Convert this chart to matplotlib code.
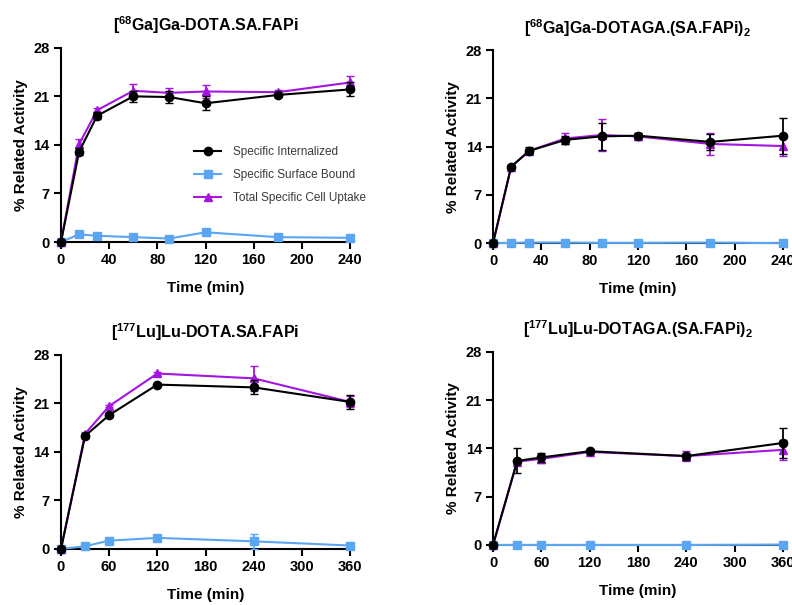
import matplotlib
matplotlib.use("Agg")
import matplotlib.pyplot as plt
from matplotlib.lines import Line2D

plt.rcParams['font.family'] = ['Liberation Sans', 'DejaVu Sans']
plt.rcParams['mathtext.fontset'] = 'custom'
plt.rcParams['mathtext.rm'] = 'Liberation Sans:bold'
plt.rcParams['mathtext.bf'] = 'Liberation Sans:bold'

BLACK = '#000000'
BLUE = '#5aa6f2'
PURPLE = '#a514e0'

# --- data ---
time_ga = [0, 15, 30, 60, 90, 120, 180, 240]
time_lu = [0, 30, 60, 120, 240, 360]

ga_mono_int = [0, 13.0, 18.2, 21.0, 20.9, 20.0, 21.2, 22.0]
ga_mono_int_err = [0, 0.5, 0.5, 0.8, 0.8, 1.0, 0.3, 1.0]
ga_mono_surf = [0, 1.1, 0.9, 0.7, 0.5, 1.4, 0.7, 0.6]
ga_mono_surf_err = [0, 0.1, 0.1, 0.1, 0.1, 0.2, 0.1, 0.1]
ga_mono_tot = [0, 14.1, 19.0, 21.8, 21.5, 21.7, 21.6, 23.0]
ga_mono_tot_err = [0, 0.8, 0.3, 1.0, 0.7, 1.0, 0.3, 1.0]

ga_di_int = [0, 11.1, 13.4, 15.0, 15.5, 15.6, 14.7, 15.6]
ga_di_int_err = [0, 0.2, 0.5, 0.6, 2.0, 0.4, 1.2, 2.6]
ga_di_surf = [0, 0.05, 0.1, 0.1, 0.05, 0.05, 0.1, 0.0]
ga_di_surf_err = [0, 0.05, 0.05, 0.05, 0.05, 0.05, 0.05, 0.05]
ga_di_tot = [0, 11.1, 13.4, 15.2, 15.7, 15.5, 14.4, 14.1]
ga_di_tot_err = [0, 0.2, 0.3, 0.8, 2.3, 0.5, 1.6, 1.5]

lu_mono_int = [0, 16.3, 19.3, 23.7, 23.3, 21.2]
lu_mono_int_err = [0, 0.3, 0.3, 0.2, 1.0, 1.0]
lu_mono_surf = [0, 0.4, 1.2, 1.6, 1.1, 0.5]
lu_mono_surf_err = [0, 0.1, 0.2, 0.2, 1.1, 0.1]
lu_mono_tot = [0, 16.6, 20.6, 25.3, 24.6, 21.2]
lu_mono_tot_err = [0, 0.2, 0.2, 0.2, 1.8, 0.8]

lu_di_int = [0, 12.2, 12.7, 13.6, 12.9, 14.8]
lu_di_int_err = [0, 1.8, 0.7, 0.2, 0.5, 2.2]
lu_di_surf = [0, 0.0, 0.0, 0.0, 0.0, 0.05]
lu_di_surf_err = [0, 0.05, 0.05, 0.05, 0.05, 0.05]
lu_di_tot = [0, 12.1, 12.5, 13.5, 12.9, 13.8]
lu_di_tot_err = [0, 0.3, 0.6, 0.2, 0.7, 1.5]

titles = [r'[$^{68}$Ga]Ga-DOTA.SA.FAPi',
          r'[$^{68}$Ga]Ga-DOTAGA.(SA.FAPi)$_{2}$',
          r'[$^{177}$Lu]Lu-DOTA.SA.FAPi',
          r'[$^{177}$Lu]Lu-DOTAGA.(SA.FAPi)$_{2}$']

labels = ['Specific Internalized', 'Specific Surface Bound', 'Total Specific Cell Uptake']


def draw_panel(ax, t, internal, internal_err, surf, surf_err, total, total_err, xmax, xstep, title):
    ax.errorbar(t, surf, yerr=surf_err, color=BLUE, marker='s', ms=6, lw=1.5,
                capsize=3, elinewidth=1.3, clip_on=False, zorder=3)
    ax.errorbar(t, total, yerr=total_err, color=PURPLE, marker='^', ms=6, lw=1.5,
                capsize=3, elinewidth=1.3, clip_on=False, zorder=4)
    ax.errorbar(t, internal, yerr=internal_err, color=BLACK, marker='o', ms=6, lw=1.5,
                capsize=3, elinewidth=1.3, clip_on=False, zorder=5)
    ax.set_xlim(0, xmax)
    ax.set_ylim(0, 28)
    ax.set_xticks(range(0, xmax + 1, xstep))
    ax.set_yticks([0, 7, 14, 21, 28])
    for s in ['top', 'right']:
        ax.spines[s].set_visible(False)
    for s in ['left', 'bottom']:
        ax.spines[s].set_linewidth(1.5)
    ax.tick_params(width=1.5, length=5, labelsize=10.5, pad=3)
    for lab in ax.get_xticklabels() + ax.get_yticklabels():
        lab.set_fontweight('bold')
    ax.set_xlabel('Time (min)', fontsize=11, fontweight='bold', labelpad=10)
    ax.set_ylabel('% Related Activity', fontsize=11, fontweight='bold')
    ax.set_title(title, fontsize=11.5, fontweight='bold', pad=12)


fig = plt.figure(figsize=(7.92, 6.05), dpi=100)
ax1 = fig.add_axes([0.077, 0.600, 0.365, 0.321])
ax2 = fig.add_axes([0.6225, 0.598, 0.366, 0.319])
ax3 = fig.add_axes([0.077, 0.0926, 0.365, 0.321])
ax4 = fig.add_axes([0.6225, 0.0992, 0.366, 0.319])

draw_panel(ax1, time_ga, ga_mono_int, ga_mono_int_err, ga_mono_surf, ga_mono_surf_err,
           ga_mono_tot, ga_mono_tot_err, 240, 40, titles[0])
draw_panel(ax2, time_ga, ga_di_int, ga_di_int_err, ga_di_surf, ga_di_surf_err,
           ga_di_tot, ga_di_tot_err, 240, 40, titles[1])
draw_panel(ax3, time_lu, lu_mono_int, lu_mono_int_err, lu_mono_surf, lu_mono_surf_err,
           lu_mono_tot, lu_mono_tot_err, 360, 60, titles[2])
draw_panel(ax4, time_lu, lu_di_int, lu_di_int_err, lu_di_surf, lu_di_surf_err,
           lu_di_tot, lu_di_tot_err, 360, 60, titles[3])

handles = [Line2D([], [], color=BLACK, marker='o', ms=6, lw=1.5),
           Line2D([], [], color=BLUE, marker='s', ms=6, lw=1.5),
           Line2D([], [], color=PURPLE, marker='^', ms=6, lw=1.5)]
leg = ax1.legend(handles, labels, loc='center left',
                 bbox_to_anchor=(0.46, 0.345), frameon=False, fontsize=8.5,
                 handlelength=2.3, labelspacing=0.95, borderpad=0, borderaxespad=0,
                 handletextpad=1.0)
for txt in leg.get_texts():
    txt.set_color('#3a3a3a')

fig.savefig('out.png', dpi=100)
